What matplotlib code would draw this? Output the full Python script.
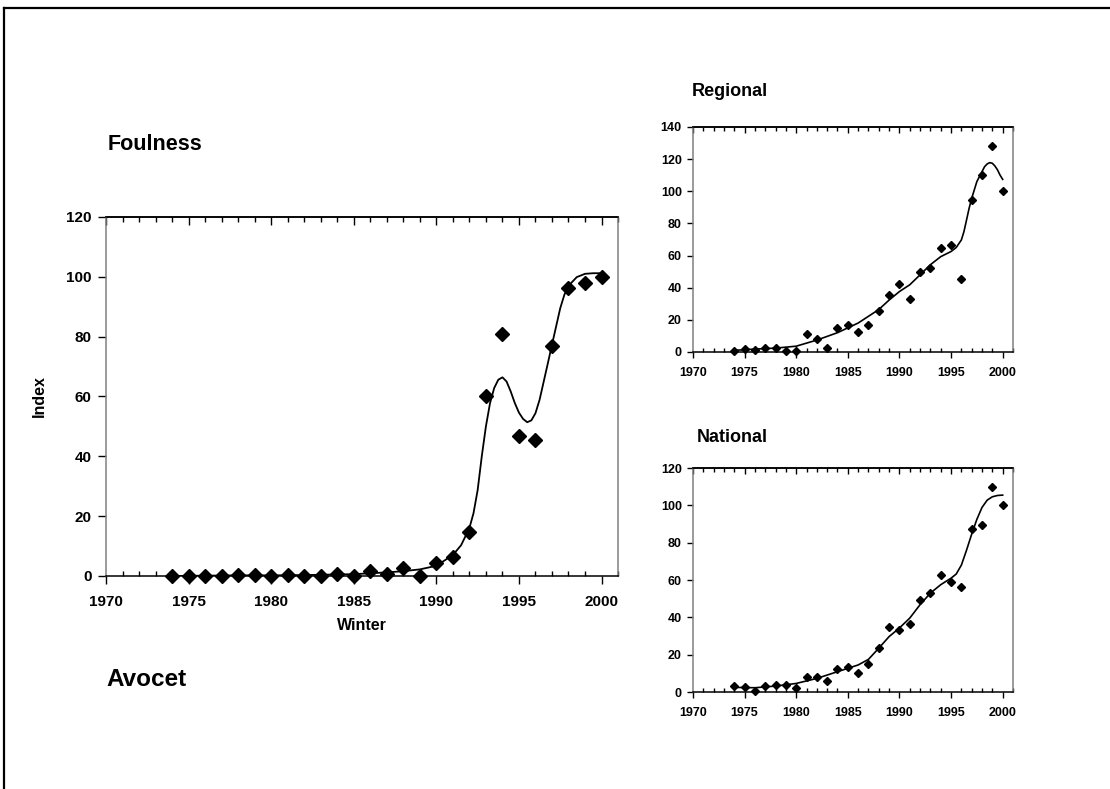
import matplotlib.pyplot as plt
from matplotlib.lines import Line2D
from matplotlib.ticker import MultipleLocator

plt.rcParams['font.family'] = ['Liberation Sans', 'DejaVu Sans']
plt.rcParams['font.weight'] = 'bold'

years = list(range(1974, 2001))

# annual index values
foulness = [0, 0, 0.1, 0, 0.4, 0.2, 0, 0.3, 0, 0, 0.8, 0, 1.6, 0.7, 2.6, 0.1,
            4.5, 6.5, 14.8, 60, 81, 46.8, 45.3, 77, 96.4, 97.9, 100]
regional = [0.8, 1.9, 1.2, 2.7, 2.5, 0.4, 0.8, 11.2, 7.9, 2.5, 15.1, 16.8, 12.2,
            16.8, 25.3, 35.5, 42.1, 32.8, 50, 52.5, 64.9, 66.8, 45.6, 94.4,
            110.1, 128.2, 100]
national = [3.2, 2.9, 0.7, 3.2, 3.6, 3.9, 2.3, 8.0, 7.9, 6.1, 12.3, 13.6, 10.2,
            15, 23.6, 34.6, 33.2, 36.6, 49.3, 52.9, 62.7, 58.9, 56.4, 87.1,
            89.3, 110, 100]

# smoothed trends
foul_trend_x = [1974, 1976, 1978, 1980, 1982, 1984, 1985, 1986, 1987, 1988, 1989,
                1990, 1991, 1991.5, 1992, 1992.25, 1992.5, 1992.75, 1993, 1993.25,
                1993.5, 1993.75, 1994, 1994.25, 1994.5, 1994.75, 1995, 1995.25,
                1995.5, 1995.75, 1996, 1996.25, 1996.5, 1996.75, 1997, 1997.25,
                1997.5, 1997.75, 1998, 1998.5, 1999, 1999.5, 2000]
foul_trend_y = [0, 0.1, 0.2, 0.2, 0.3, 0.5, 0.6, 0.9, 1.2, 1.6, 2.2,
                3.4, 7, 10.3, 16, 21, 28.7, 40, 50, 57.8,
                62.8, 65.6, 66.4, 65, 61.7, 57.8, 54.6, 52.5,
                51.4, 52, 54.4, 58.9, 65, 71.1, 77.3, 83.4,
                89.5, 94, 97, 99.9, 101, 101.2, 101.2]
reg_trend_x = [1974, 1976, 1978, 1980, 1982, 1984, 1986, 1988, 1989, 1990, 1991,
               1992, 1993, 1994, 1995, 1995.5, 1996, 1996.25, 1996.5, 1996.75,
               1997, 1997.5, 1998, 1998.25, 1998.5, 1998.75, 1999, 1999.25,
               1999.5, 1999.75, 2000]
reg_trend_y = [1.0, 1.8, 2.4, 3.6, 7.4, 12, 18, 26.4, 32.3, 37.6, 41.8,
               48, 54.3, 59.3, 62.5, 65, 69.7, 74.9, 82.1, 89.4,
               95.6, 106, 112.2, 115.3, 117, 117.8, 117.4, 115.7,
               113.3, 110, 107.4]
nat_trend_x = [1974, 1976, 1978, 1980, 1982, 1984, 1986, 1987, 1988, 1989, 1990,
               1991, 1992, 1993, 1994, 1995, 1995.5, 1996, 1996.5, 1997, 1997.5,
               1998, 1998.5, 1999, 1999.5, 2000]
nat_trend_y = [2.5, 2.3, 3.2, 4.6, 7.3, 10.9, 14.5, 17.5, 23.5, 29.7, 34.3,
               39.6, 46.8, 53, 57.5, 61, 63.2, 68, 76, 84.6, 92.5,
               98.9, 102.8, 104.6, 105.3, 105.5]

GREY = '#808080'


def style_axes(ax, ymax, ystep, tick_size, tick_len, xpad, ypad):
    ax.set_xlim(1970, 2001)
    ax.set_ylim(0, ymax)
    ax.xaxis.set_major_locator(MultipleLocator(5))
    ax.xaxis.set_minor_locator(MultipleLocator(1))
    ax.yaxis.set_major_locator(MultipleLocator(ystep))
    ax.tick_params(axis='x', which='major', direction='out', length=tick_len,
                   width=1, labelsize=tick_size, pad=xpad)
    ax.tick_params(axis='x', which='minor', direction='in', length=tick_len * 0.7,
                   width=1)
    ax.tick_params(axis='y', which='major', direction='out', length=tick_len,
                   width=1, labelsize=tick_size, pad=ypad)
    for lab in ax.get_xticklabels() + ax.get_yticklabels():
        lab.set_fontweight('bold')
    ax.spines['left'].set_color(GREY)
    ax.spines['right'].set_color(GREY)
    ax.spines['bottom'].set_color('black')
    ax.spines['top'].set_color('black')
    for s in ax.spines.values():
        s.set_linewidth(1.1)
    top = ax.secondary_xaxis('top')
    top.xaxis.set_major_locator(MultipleLocator(5))
    top.xaxis.set_minor_locator(MultipleLocator(1))
    top.tick_params(which='major', direction='in', length=tick_len,
                    labeltop=False, width=1)
    top.tick_params(which='minor', direction='in', length=tick_len * 0.7, width=1)
    top.spines['top'].set_linewidth(1.1)


fig = plt.figure(figsize=(11.1, 7.89), dpi=100)

# outer frame (top and left edges)
fig.add_artist(Line2D([4 / 1110, 1], [1 - 8 / 789, 1 - 8 / 789], color='black', lw=1.6))
fig.add_artist(Line2D([4 / 1110, 4 / 1110], [0, 1 - 8 / 789], color='black', lw=1.6))

ax_main = fig.add_axes([0.0955, 0.2700, 0.4613, 0.4550])
ax_main.plot(foul_trend_x, foul_trend_y, color='black', lw=1.3, zorder=2)
ax_main.plot(years, foulness, 'D', color='black', ms=7, clip_on=False, zorder=3)
style_axes(ax_main, 120, 20, 11, 5.5, 8, 5)
ax_main.set_ylabel('Index', fontsize=11.5, fontweight='bold', labelpad=14)
ax_main.set_xlabel('Winter', fontsize=11.5, fontweight='bold', labelpad=7)

ax_reg = fig.add_axes([0.6243, 0.5539, 0.2883, 0.2852])
ax_reg.plot(reg_trend_x, reg_trend_y, color='black', lw=1.2, zorder=2)
ax_reg.plot(years, regional, 'D', color='black', ms=4.2, clip_on=False, zorder=3)
style_axes(ax_reg, 140, 20, 9, 4, 7, 4)

ax_nat = fig.add_axes([0.6243, 0.1229, 0.2883, 0.2839])
ax_nat.plot(nat_trend_x, nat_trend_y, color='black', lw=1.2, zorder=2)
ax_nat.plot(years, national, 'D', color='black', ms=4.2, clip_on=False, zorder=3)
style_axes(ax_nat, 120, 20, 9, 4, 7, 4)

fig.text(108 / 1110, 1 - 145 / 789, 'Foulness', fontsize=15.5, fontweight='bold',
         va='center', ha='left')
fig.text(106 / 1110, 1 - 680 / 789, 'Avocet', fontsize=17.5, fontweight='bold',
         va='center', ha='left')
fig.text(692 / 1110, 1 - 92 / 789, 'Regional', fontsize=13, fontweight='bold',
         va='center', ha='left')
fig.text(697 / 1110, 1 - 437 / 789, 'National', fontsize=13, fontweight='bold',
         va='center', ha='left')

fig.savefig('out.png', dpi=100)
